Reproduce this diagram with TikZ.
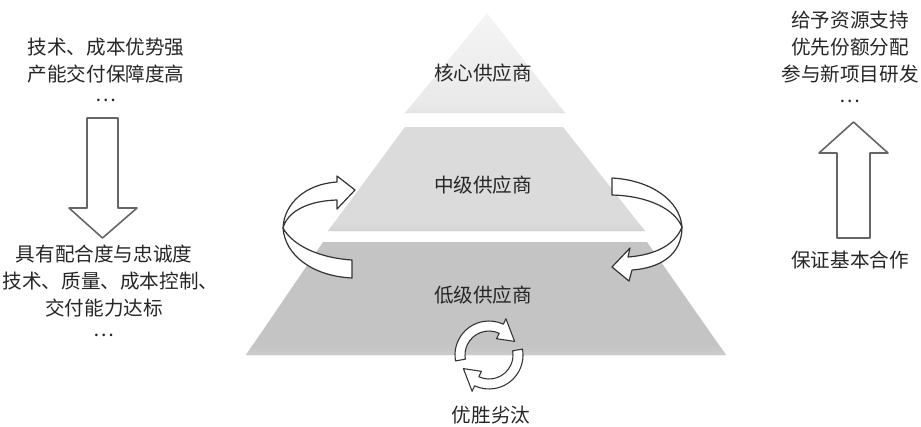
\documentclass[tikz,border=0pt]{standalone}
\usepackage{fontspec}
\setmainfont{Noto Sans CJK SC}
\begin{document}
\begin{tikzpicture}[x=0.75pt,y=-0.75pt,line join=round,
  ribbon/.style={fill=white,draw=black!80,line width=0.9pt},
  blockarrow/.style={fill=white,draw=black!60,line width=1.2pt},
  lbl/.style={font=\fontsize{14.7pt}{20.25pt}\selectfont,text=black!85,align=center,inner sep=0pt}]
\useasboundingbox (0,0) rectangle (921,426);
% ---- pyramid layers ----
\shade[top color=black!4,bottom color=black!9] (487,13) -- (565,113) -- (405,113) -- cycle;
\begin{scope}
  \clip (487,13) -- (565,113) -- (405,113) -- cycle;
  \shade[top color=black!9,middle color=black!38,bottom color=black!12] (400,107) rectangle (570,116);
\end{scope}
\fill[black!14] (405,127) -- (563,127) -- (645,231) -- (328,231) -- cycle;
\begin{scope}
  \clip (405,127) -- (563,127) -- (645,231) -- (328,231) -- cycle;
  \shade[top color=black!14,middle color=black!40,bottom color=black!18] (320,223) rectangle (650,232);
\end{scope}
\fill[black!23] (323,242) -- (647,242) -- (726,355) -- (246,355) -- cycle;
\begin{scope}
  \clip (323,242) -- (647,242) -- (726,355) -- (246,355) -- cycle;
  \shade[top color=black!23,middle color=black!38,bottom color=black!20] (240,345) rectangle (730,356);
\end{scope}
% ---- labels in pyramid ----
\node[lbl] (core) at (483,73) {核心供应商};
\node[lbl] (mid) at (483,185) {中级供应商};
\node[lbl] (low) at (483,295) {低级供应商};
\node[lbl] (elim) at (491,415) {优胜劣汰};
% ---- left ribbon (up) ----
\draw[ribbon] (283,228) .. controls (285,255) and (312,276) .. (352,278) -- (352,260)
  .. controls (320,258) and (293,246) .. (283,228) -- cycle;
\draw[ribbon] (337,182) .. controls (305,184) and (284,204) .. (283,228)
  .. controls (287,213) and (305,201) .. (337,200) -- (337,209) -- (355,190) -- (337,176) -- cycle;
% ---- right ribbon (down) ----
\draw[ribbon] (612,178) .. controls (650,180) and (680,200) .. (682,227)
  .. controls (675,210) and (650,196) .. (612,195) -- cycle;
\draw[ribbon] (682,227) .. controls (682,255) and (660,268) .. (632,270) -- (629,281) -- (612,267) -- (630,248)
  -- (628,257) .. controls (655,255) and (675,245) .. (682,227) -- cycle;
% ---- cycle icon ----
\begin{scope}[shift={(489,355)}]
  \draw[ribbon,line width=0.8pt] (170:34) arc[start angle=170,end angle=295,radius=34] -- (295:40) -- (332:29)
    -- (295:18) -- (295:24) arc[start angle=295,end angle=170,radius=24] -- cycle;
  \draw[ribbon,line width=0.8pt] (350:34) arc[start angle=350,end angle=475,radius=34] -- (475:40) -- (512:29)
    -- (475:18) -- (475:24) arc[start angle=475,end angle=350,radius=24] -- cycle;
\end{scope}
% ---- side texts ----
\node[lbl] (lt) at (106,70) {技术、成本优势强\\产能交付保障度高\\[-5pt]…};
\node[lbl] (lb) at (104,291) {具有配合度与忠诚度\\\makebox[152pt][l]{技术、质量、成本控制、}\\交付能力达标\\[-5pt]…};
\node[lbl] (rt) at (850,57) {给予资源支持\\优先份额分配\\参与新项目研发\\[-5pt]…};
\node[lbl] (rb) at (850,260) {保证基本合作};
% ---- block arrows ----
\draw[blockarrow] (87,118) -- (118,118) -- (118,208) -- (137,208) -- (102.5,238) -- (69,208) -- (87,208) -- cycle;
\draw[blockarrow] (837,238) -- (870,238) -- (870,153) -- (888,153) -- (853.5,122) -- (819,153) -- (837,153) -- cycle;
\end{tikzpicture}
\end{document}
